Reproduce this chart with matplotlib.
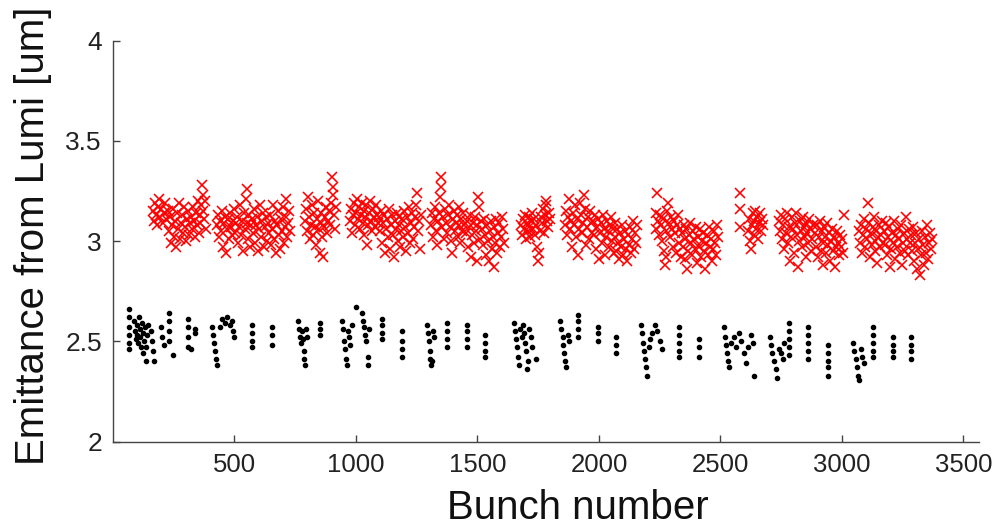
import matplotlib
matplotlib.use("Agg")
import matplotlib.pyplot as plt

plt.rcParams['font.family'] = ['Liberation Sans', 'DejaVu Sans']

# Red series (x markers): bunch number, emittance [um]
red_x = [
    166, 170, 174, 178, 182, 186, 190, 194, 198, 204, 210, 214, 220, 226,
    232, 236, 240, 244, 248, 252, 256, 260, 264, 268, 272, 276, 280, 284, 288, 292, 296, 300, 304, 308, 312, 316,
    320, 324, 328, 332, 336, 340, 344, 348, 352, 356, 360, 364, 368, 370, 372, 376, 380, 384,
    430, 434, 438, 442, 446, 450, 454, 458, 462, 466, 470, 474, 478, 482, 486, 490, 494, 498, 502, 506,
    510, 514, 518, 522, 526, 530, 534, 538, 542, 546, 550, 552, 556, 560, 564, 568,
    574, 578, 582, 586, 590, 594, 598, 602, 606, 610, 614, 618, 622, 626, 630, 634, 638, 642,
    646, 650, 654, 658, 662, 666, 670, 674, 678, 682, 686, 690, 694, 698, 702, 706, 710, 714, 718, 722, 726, 730,
    790, 794, 798, 802, 806, 810, 814, 818, 822, 826, 830, 834, 838, 842, 846, 850, 854, 858, 862, 866, 870, 874,
    878, 882, 886, 890, 894, 898, 902, 904, 906, 910, 914, 918,
    975, 979, 983, 987, 991, 995, 999, 1003, 1007, 1011, 1015, 1019, 1023, 1027, 1031, 1035, 1039, 1043, 1047,
    1051, 1055, 1059, 1063, 1067, 1071, 1075, 1079, 1083, 1087, 1091,
    1095, 1099, 1103, 1107, 1111, 1115, 1119, 1123, 1127, 1131, 1135, 1139, 1143, 1147, 1151, 1155, 1159, 1163,
    1167, 1171, 1175, 1179, 1183, 1187,
    1191, 1195, 1199, 1203, 1207, 1211, 1215, 1219, 1223, 1227, 1231, 1235, 1239, 1243, 1247, 1251, 1255, 1259, 1263, 1267,
    1310, 1314, 1318, 1322, 1326, 1330, 1334, 1338, 1342, 1346, 1349, 1351, 1354, 1358, 1362, 1366, 1370, 1374,
    1378, 1382, 1386, 1390, 1394, 1398, 1402, 1406, 1410, 1414, 1418, 1422, 1426, 1430, 1434, 1438, 1442, 1446,
    1452, 1456, 1460, 1464, 1468, 1472, 1476, 1480, 1484, 1488, 1492, 1496, 1500, 1504, 1506, 1510, 1514,
    1518, 1522, 1526, 1530, 1534, 1538, 1542, 1546, 1550, 1554, 1558, 1562, 1566, 1570, 1574, 1578, 1582, 1586,
    1590, 1594, 1598, 1602, 1606, 1610,
    1678, 1682, 1686, 1690, 1694, 1698, 1702, 1706, 1710, 1714, 1718, 1722, 1726, 1730, 1734, 1738, 1742, 1746,
    1750, 1752, 1756, 1760, 1764, 1768, 1772, 1776, 1780, 1784, 1788, 1792, 1796, 1800,
    1862, 1866, 1870, 1874, 1878, 1882, 1886, 1890, 1894, 1898, 1902, 1906, 1910, 1914, 1918, 1922, 1926, 1930,
    1934, 1938, 1942, 1946, 1950, 1954, 1958, 1962, 1966, 1970,
    1976, 1980, 1984, 1988, 1992, 1996, 2000, 2004, 2008, 2012, 2016, 2020, 2024, 2028, 2032, 2036, 2040, 2044,
    2048, 2052, 2056, 2060, 2064,
    2068, 2072, 2076, 2080, 2084, 2088, 2092, 2096, 2100, 2104, 2108, 2112, 2116, 2120, 2124, 2128, 2132, 2136,
    2140, 2144, 2148, 2152, 2156,
    2240, 2233, 2233, 2244, 2248, 2252, 2256, 2260, 2264, 2268, 2272, 2274, 2276, 2280, 2284, 2288, 2292, 2296,
    2300, 2304, 2308, 2312, 2316, 2320, 2324, 2328, 2332, 2336,
    2340, 2344, 2348, 2352, 2356, 2360, 2364, 2368, 2372, 2376, 2380, 2384, 2388, 2392, 2396, 2400, 2404, 2408,
    2412, 2416, 2420, 2424, 2428, 2432, 2436, 2440, 2444, 2448, 2452, 2456, 2460, 2464, 2468, 2472, 2476, 2480,
    2484, 2488,
    2580, 2580, 2582, 2612, 2616, 2620, 2624, 2628, 2632, 2636, 2640, 2644, 2648, 2652, 2656, 2660, 2664, 2668,
    2672, 2676,
    2742, 2746, 2750, 2754, 2758, 2762, 2766, 2770, 2774, 2778, 2782, 2786, 2790, 2794, 2798, 2802, 2806, 2810,
    2814, 2818, 2822, 2826, 2830, 2834, 2838, 2842, 2846, 2850, 2854, 2858, 2862, 2866, 2870, 2874, 2878, 2882,
    2888, 2892, 2896, 2900, 2904, 2908, 2912, 2916, 2920, 2924, 2928, 2932, 2936, 2940, 2944, 2948, 2952, 2956,
    2960, 2964, 2968, 2972, 2976, 2980, 2984, 2988, 2992, 2996, 3000, 3009, 3004,
    3072, 3076, 3080, 3084, 3088, 3092, 3096, 3100, 3104, 3107, 3110, 3114, 3118, 3122, 3126, 3130, 3134, 3138,
    3142, 3146, 3150, 3154, 3158, 3162, 3166, 3170,
    3174, 3178, 3182, 3186, 3190, 3194, 3198, 3202, 3206, 3210, 3214, 3218, 3222, 3226, 3230, 3234, 3238, 3242,
    3246, 3250, 3254, 3258, 3262, 3266, 3270, 3274, 3278,
    3286, 3290, 3294, 3298, 3302, 3306, 3310, 3314, 3318, 3322, 3326, 3330, 3334, 3338, 3342, 3346, 3350, 3354,
    3358, 3362, 3366, 3370,
]
red_y = [
    3.15, 3.10, 3.19, 3.13, 3.08, 3.17, 3.21, 3.12, 3.16, 3.09, 3.14, 3.19, 3.11, 3.15,
    3.05, 3.12, 2.99, 3.08, 3.16, 3.02, 3.10, 2.97, 3.14, 3.06, 3.19, 3.01, 3.09, 3.13, 3.04, 3.17, 3.07, 3.00, 3.11, 3.15, 3.03, 3.09,
    3.12, 3.06, 3.17, 3.10, 3.02, 3.14, 3.08, 3.20, 3.04, 3.13, 3.09, 3.18, 3.28, 3.23, 3.15, 3.11, 3.20, 3.06,
    3.08, 3.13, 3.02, 3.10, 3.05, 3.15, 2.97, 3.09, 3.12, 2.94, 3.06, 3.11, 3.01, 3.14, 3.07, 3.03, 3.10, 3.16, 3.04, 3.09,
    3.12, 2.99, 3.07, 3.18, 3.03, 3.10, 2.95, 3.14, 3.06, 3.21, 3.09, 3.26, 3.01, 3.13, 2.97, 3.08,
    3.11, 3.04, 3.16, 2.99, 3.08, 3.12, 2.95, 3.06, 3.18, 3.02, 3.10, 3.14, 2.97, 3.07, 3.12, 3.00, 3.09, 3.04,
    3.13, 2.98, 3.06, 3.18, 3.01, 3.10, 2.94, 3.08, 3.15, 3.03, 2.96, 3.11, 3.05, 3.17, 2.99, 3.07, 3.21, 3.12, 3.02, 3.09, 3.15, 3.05,
    3.10, 3.16, 3.05, 3.22, 3.12, 3.01, 3.08, 3.18, 3.03, 3.14, 3.07, 2.98, 3.11, 3.20, 3.06, 2.94, 3.09, 3.14, 3.02, 2.92, 3.07, 3.12,
    3.17, 3.04, 3.10, 3.15, 3.08, 3.19, 3.32, 3.27, 3.23, 3.13, 3.06, 3.17,
    3.10, 3.16, 3.04, 3.13, 3.19, 3.08, 3.14, 3.21, 3.11, 3.17, 3.06, 3.13, 3.19, 3.09, 3.15, 3.03, 3.12, 3.18, 2.98,
    3.08, 3.14, 3.20, 3.10, 3.05, 3.16, 3.12, 3.07, 3.18, 3.13, 3.09,
    3.12, 3.05, 3.15, 2.99, 3.09, 3.13, 2.94, 3.06, 3.11, 3.02, 3.16, 2.96, 3.08, 3.13, 3.03, 2.92, 3.10, 3.06,
    3.14, 3.00, 3.08, 3.12, 2.97, 3.05,
    3.11, 3.02, 3.15, 3.07, 2.95, 3.12, 3.04, 3.17, 2.99, 3.09, 3.14, 3.01, 3.07, 3.12, 3.18, 3.24, 3.05, 3.10, 2.96, 3.13,
    3.08, 3.14, 3.02, 3.11, 3.17, 3.05, 2.98, 3.10, 3.14, 3.22, 3.32, 3.27, 3.07, 3.12, 3.01, 3.16, 3.09, 3.04,
    3.13, 3.18, 3.07, 3.00, 2.94, 3.11, 3.15, 3.05, 3.09, 3.13, 3.02, 3.17, 3.08, 2.99, 3.11, 3.05, 3.14, 3.08,
    3.04, 3.10, 2.97, 3.07, 3.13, 2.92, 3.03, 3.09, 2.99, 3.12, 3.05, 2.90, 3.08, 3.22, 3.17, 3.01, 3.10,
    3.06, 2.98, 3.11, 3.03, 2.93, 3.08, 3.00, 2.90, 3.05, 3.10, 2.96, 3.02, 2.87, 3.07, 2.99, 3.11, 2.94, 3.04,
    3.09, 2.97, 3.02, 3.12, 3.06, 2.99,
    3.08, 3.03, 3.11, 3.06, 3.13, 3.01, 3.09, 3.05, 3.12, 3.07, 3.02, 3.10, 3.14, 3.06, 3.11, 3.03, 3.08, 2.97,
    2.90, 2.94, 3.05, 3.12, 3.09, 3.16, 3.04, 3.13, 3.18, 3.20, 3.10, 3.07, 3.14, 3.11,
    3.08, 3.15, 3.03, 3.12, 3.21, 3.06, 3.10, 2.97, 3.14, 3.08, 3.18, 3.02, 3.11, 2.93, 3.06, 3.19, 3.13, 3.04,
    3.09, 3.23, 3.16, 2.98, 3.07, 3.12, 3.01, 3.15, 3.09, 3.04,
    3.10, 3.03, 3.13, 2.96, 3.07, 3.11, 2.91, 3.04, 3.09, 2.99, 3.13, 3.06, 2.93, 3.02, 3.10, 3.05, 2.97, 3.08,
    3.12, 3.00, 3.06, 2.94, 3.09,
    3.02, 2.95, 3.06, 2.99, 2.91, 3.04, 2.97, 3.08, 2.93, 3.01, 3.05, 2.96, 2.90, 3.03, 2.98, 3.07, 2.94, 3.01,
    3.10, 2.96, 3.04, 2.99, 3.08,
    3.24, 3.14, 3.06, 3.10, 3.03, 3.13, 3.08, 3.00, 3.11, 2.95, 2.88, 2.92, 3.05, 3.15, 3.19, 3.09, 3.02, 3.12,
    3.06, 2.97, 3.10, 3.04, 2.94, 3.08, 3.13, 2.99, 3.06, 2.92,
    3.04, 2.97, 3.08, 2.91, 3.01, 3.06, 2.86, 2.95, 3.03, 3.09, 2.99, 2.93, 3.05, 3.01, 2.96, 3.07, 2.89, 3.02,
    2.97, 3.06, 2.92, 3.00, 3.04, 2.95, 2.86, 2.99, 3.03, 2.93, 3.07, 2.97, 3.01, 2.90, 2.96, 3.05, 2.99, 2.93,
    3.08, 3.02,
    3.24, 3.16, 3.07, 3.05, 3.11, 3.00, 2.96, 3.08, 3.14, 3.03, 3.10, 3.15, 3.06, 3.12, 3.01, 3.09, 3.14, 3.05,
    3.11, 3.08,
    3.10, 3.05, 3.13, 3.01, 3.08, 2.96, 3.11, 3.04, 3.14, 2.99, 3.07, 2.90, 3.02, 3.12, 3.06, 2.94, 3.09, 3.14,
    3.03, 2.87, 3.00, 3.10, 3.05, 2.97, 3.12, 3.07, 3.02, 2.92, 3.09, 3.04, 2.99, 3.11, 3.06, 2.95, 3.01, 3.08,
    3.04, 2.97, 3.08, 2.92, 3.02, 3.10, 2.95, 3.05, 2.88, 2.99, 3.07, 3.02, 2.94, 3.09, 2.98, 3.04, 2.90, 3.00,
    3.06, 2.95, 3.02, 2.87, 2.97, 3.05, 2.99, 2.93, 3.03, 2.97, 3.01, 3.13, 2.94,
    3.05, 2.99, 3.08, 2.94, 3.03, 3.11, 2.97, 3.06, 3.01, 3.19, 3.09, 2.92, 3.04, 2.98, 3.07, 3.12, 3.00, 2.95,
    3.05, 2.89, 3.02, 3.08, 2.97, 3.03, 3.10, 2.99,
    3.05, 2.98, 3.09, 2.93, 3.02, 3.07, 2.87, 2.96, 3.04, 2.99, 3.10, 2.91, 3.03, 2.97, 3.06, 3.01, 2.94, 3.08,
    2.88, 2.99, 3.04, 2.95, 3.12, 3.01, 2.93, 3.06, 2.99,
    3.03, 2.95, 3.07, 2.90, 2.99, 3.04, 2.86, 2.96, 3.01, 2.83, 2.93, 3.05, 2.98, 2.88, 3.02, 2.94, 3.08, 2.91,
    2.99, 3.04, 2.96, 3.01,
]

# Black series (dots): bunch number, emittance [um]
black_x = [
    65, 65, 65, 65, 65, 65,
    88, 92, 94, 98, 100, 104, 106, 110, 112, 116, 118, 122, 124, 128, 130, 134, 136, 140, 142,
    155, 159, 163, 168,
    196, 202, 209,
    229, 229, 229, 229, 245,
    307, 307, 307, 307, 319, 339, 339,
    409, 413, 417, 421, 425, 429,
    442, 450, 460, 470, 480, 490, 495, 500,
    572, 572, 572, 572,
    654, 654, 654,
    762, 764, 768, 772, 776, 780, 784, 788, 790, 795, 797,
    850, 850, 850,
    944, 946, 950, 954, 958, 962, 968, 972, 976, 982,
    1002,
    1026, 1030, 1032, 1038, 1042, 1048, 1050, 1055,
    1108, 1108, 1108, 1108,
    1190, 1190, 1190, 1190,
    1292, 1296, 1300, 1304, 1306, 1310, 1314, 1318, 1320,
    1374, 1374, 1374, 1374,
    1455, 1455, 1455, 1455,
    1533, 1533, 1533, 1533,
    1650, 1654, 1658, 1662, 1666, 1670, 1676, 1682, 1688, 1692, 1696, 1700, 1704, 1708, 1714, 1720, 1726, 1742,
    1840, 1844, 1850, 1854, 1858, 1862, 1866, 1872, 1878,
    1913, 1913, 1913, 1913,
    1995, 1995, 1995,
    2069, 2069, 2069,
    2172, 2176, 2180, 2184, 2188, 2192, 2196, 2204, 2212, 2220, 2230, 2240, 2250, 2258,
    2330, 2330, 2330, 2330, 2330,
    2412, 2412, 2412,
    2514, 2518, 2522, 2526, 2530, 2534, 2545, 2555, 2565, 2575, 2585, 2595, 2605, 2615, 2625, 2635, 2640,
    2704, 2708, 2712, 2720, 2728, 2734, 2740, 2748, 2756, 2762,
    2784, 2784, 2784, 2784, 2784,
    2862, 2862, 2862, 2862, 2862,
    2944, 2944, 2944, 2944, 2944,
    3046, 3050, 3056, 3060, 3066, 3070, 3078, 3084, 3090,
    3128, 3128, 3128, 3128, 3128,
    3209, 3209, 3209, 3209,
    3283, 3283, 3283, 3283,
]
black_y = [
    2.66, 2.62, 2.57, 2.53, 2.49, 2.46,
    2.60, 2.55, 2.51, 2.58, 2.53, 2.49, 2.62, 2.56, 2.52, 2.47, 2.59, 2.54, 2.44, 2.50, 2.57, 2.40, 2.47, 2.53, 2.58,
    2.55, 2.50, 2.45, 2.40,
    2.57, 2.52, 2.48,
    2.64, 2.60, 2.55, 2.50, 2.43,
    2.61, 2.57, 2.52, 2.47, 2.46, 2.56, 2.54,
    2.57, 2.53, 2.49, 2.45, 2.41, 2.38,
    2.57, 2.61, 2.59, 2.62, 2.58, 2.60, 2.55, 2.52,
    2.58, 2.54, 2.50, 2.47,
    2.57, 2.53, 2.48,
    2.60, 2.56, 2.52, 2.49, 2.55, 2.51, 2.45, 2.41, 2.38, 2.56, 2.52,
    2.59, 2.56, 2.53,
    2.60, 2.56, 2.50, 2.46, 2.41, 2.38, 2.55, 2.52, 2.48, 2.58,
    2.67,
    2.64, 2.60, 2.57, 2.53, 2.50, 2.42, 2.38, 2.56,
    2.61, 2.58, 2.54, 2.51,
    2.55, 2.50, 2.46, 2.42,
    2.58, 2.54, 2.50, 2.45, 2.41, 2.38, 2.40, 2.55, 2.52,
    2.59, 2.55, 2.51, 2.47,
    2.58, 2.55, 2.51, 2.47,
    2.53, 2.49, 2.45, 2.42,
    2.59, 2.55, 2.51, 2.47, 2.42, 2.38, 2.56, 2.52, 2.58, 2.54, 2.49, 2.45, 2.36, 2.40, 2.56, 2.52, 2.47, 2.41,
    2.60, 2.56, 2.52, 2.48, 2.44, 2.40, 2.37, 2.53, 2.50,
    2.63, 2.60, 2.56, 2.52,
    2.57, 2.54, 2.50,
    2.52, 2.48, 2.44,
    2.58, 2.54, 2.49, 2.45, 2.41, 2.37, 2.33, 2.47, 2.51, 2.54, 2.58, 2.55, 2.50, 2.46,
    2.57, 2.53, 2.49, 2.45, 2.42,
    2.51, 2.47, 2.42,
    2.57, 2.52, 2.48, 2.44, 2.40, 2.37, 2.49, 2.52, 2.47, 2.54, 2.50, 2.44, 2.39, 2.47, 2.53, 2.49, 2.33,
    2.52, 2.48, 2.44, 2.40, 2.36, 2.32, 2.46, 2.44, 2.41, 2.49,
    2.59, 2.55, 2.51, 2.47, 2.43,
    2.57, 2.53, 2.49, 2.45, 2.41,
    2.48, 2.44, 2.40, 2.37, 2.33,
    2.49, 2.45, 2.41, 2.37, 2.33, 2.31, 2.46, 2.42, 2.39,
    2.57, 2.53, 2.49, 2.45, 2.42,
    2.52, 2.48, 2.45, 2.42,
    2.52, 2.48, 2.45, 2.41,
]

x_ticks = [500, 1000, 1500, 2000, 2500, 3000, 3500]
y_ticks = [2, 2.5, 3, 3.5, 4]
y_tick_labels = ["2", "2.5", "3", "3.5", "4"]
x_label = "Bunch number"
y_label = "Emittance from Lumi [um]"

fig = plt.figure(figsize=(9.93, 5.26), dpi=100)
ax = fig.add_axes([113 / 993, 0.1603, 866 / 993, 0.7624])

ax.plot(red_x, red_y, linestyle='none', marker='x', color='#ff0000',
        markersize=6.5, markeredgewidth=1.15)
ax.plot(black_x, black_y, linestyle='none', marker='.', color='black',
        markersize=6)

ax.set_xlim(0, 3564)
ax.set_ylim(2, 4)
ax.set_xticks(x_ticks)
ax.set_xticklabels([str(t) for t in x_ticks])
ax.set_yticks(y_ticks)
ax.set_yticklabels(y_tick_labels)

for s in ['top', 'right']:
    ax.spines[s].set_visible(False)
for s in ['left', 'bottom']:
    ax.spines[s].set_color('#444444')
    ax.spines[s].set_linewidth(1.0)

ax.tick_params(direction='in', length=5, width=1.0, color='#444444',
               labelcolor='#222222', pad=8)
ax.tick_params(axis='y', labelsize=19)
ax.tick_params(axis='x', labelsize=18.5)

fig.text(578 / 993, 1 - 508 / 526, x_label, ha='center', va='center', fontsize=29, color='#111111')
fig.text(33 / 993, 1 - 236 / 526, y_label, ha='center', va='center', rotation=90,
         fontsize=29, color='#111111')

fig.savefig('out.png', dpi=100)
